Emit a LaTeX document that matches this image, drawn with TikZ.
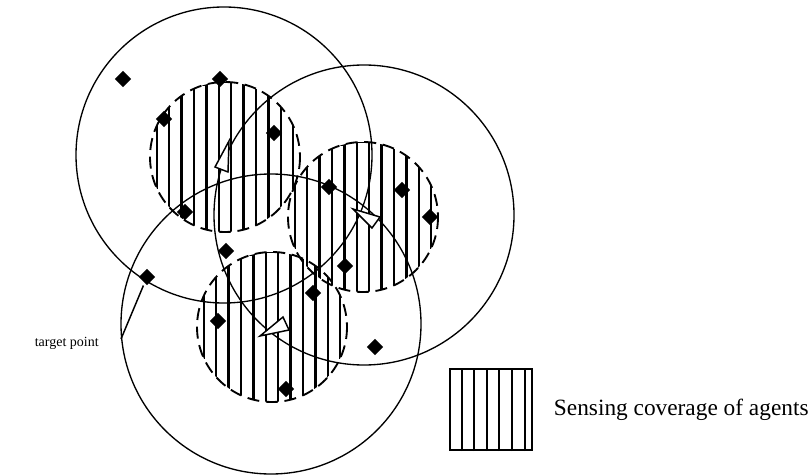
\documentclass[tikz,border=0pt]{standalone}
\usepackage{fontspec}
\setmainfont{Liberation Serif}
\usetikzlibrary{positioning,calc,shapes.geometric}

\begin{document}
\begin{tikzpicture}[
  x=0.75pt, y=-0.75pt,
  comm/.style   = {draw, line width=1pt},
  sense/.style  = {draw, line width=1.4pt, dash pattern=on 9pt off 5pt},
  strip/.style  = {draw, line width=1.9pt},
  pt/.style     = {diamond, fill=black, inner sep=0pt, minimum size=12.5pt},
  heading/.style= {draw, fill=white, line width=1.1pt, line join=miter},
  legbox/.style = {draw, line width=1.5pt, minimum width=61.5pt, minimum height=60.75pt,
                   inner sep=0pt},
  lbl/.style    = {inner sep=0pt}
]
\useasboundingbox (0,0) rectangle (812,474);

% ------------------------------------------------------ zone di sensing, a strisce --
\foreach \cx/\cy in {225/157, 363/217, 272/327} {
  \begin{scope}
    \clip (\cx,\cy) circle[radius=75];
    \foreach \k in {-3,...,3} {
      \pgfmathsetmacro\xl{\cx+24.8*\k-6.2}
      \pgfmathsetmacro\xr{\cx+24.8*\k+6.2}
      \pgfmathsetmacro\hoff{max(0,abs(24.8*\k)-6.2)}
      \pgfmathsetmacro\hh{sqrt(75*75-\hoff*\hoff)}
      \draw[strip] (\xl,\cy-\hh) rectangle (\xr,\cy+\hh);
    }
  \end{scope}
  \draw[sense] (\cx,\cy) circle[radius=75];
}

% ------------------------------------------------------ raggi di comunicazione --
\draw[comm] (224,155) circle[radius=148];
\draw[comm] (364,215) circle[radius=150];
\draw[comm] (271,324) circle[radius=150];

% ------------------------------------------------------------------ agenti --
\draw[heading] (229,141) -- (215,167) -- (228,172) -- cycle;
\draw[heading] (353,209) -- (380,217) -- (372,228) -- cycle;
\draw[heading] (260,336) -- (283,317) -- (289,330) -- cycle;

% ------------------------------------------------------------------- punti --
\foreach \x/\y [count=\i] in {123/79, 220/79, 164/119, 274/133, 185/212, 226/251,
                              329/187, 402/190, 430/217, 345/266, 313/293,
                              218/321, 286/389, 375/347}
  \node[pt] (p\i) at (\x,\y) {};
\node[pt] (tgt) at (147,277) {};

\coordinate (tend) at (121,339);
\draw[line width=1.1pt, shorten <=2pt] (tgt) -- (tend);
\node[lbl, font=\fontsize{10.5pt}{12pt}\selectfont, anchor=east] (tlab) at (99,343) {target point};

% ------------------------------------------------------------------ legenda --
\node[legbox] (leg) at (491,409.5) {};
\foreach \i in {1,...,6}
  \draw[line width=1.5pt] ($(leg.south west)+(\i*12.6,0)$) -- ($(leg.north west)+(\i*12.6,0)$);
\node[lbl, font=\fontsize{17.5pt}{20pt}\selectfont, right=15.5pt of leg] (ltxt) {Sensing coverage of agents};

\end{tikzpicture}
\end{document}
